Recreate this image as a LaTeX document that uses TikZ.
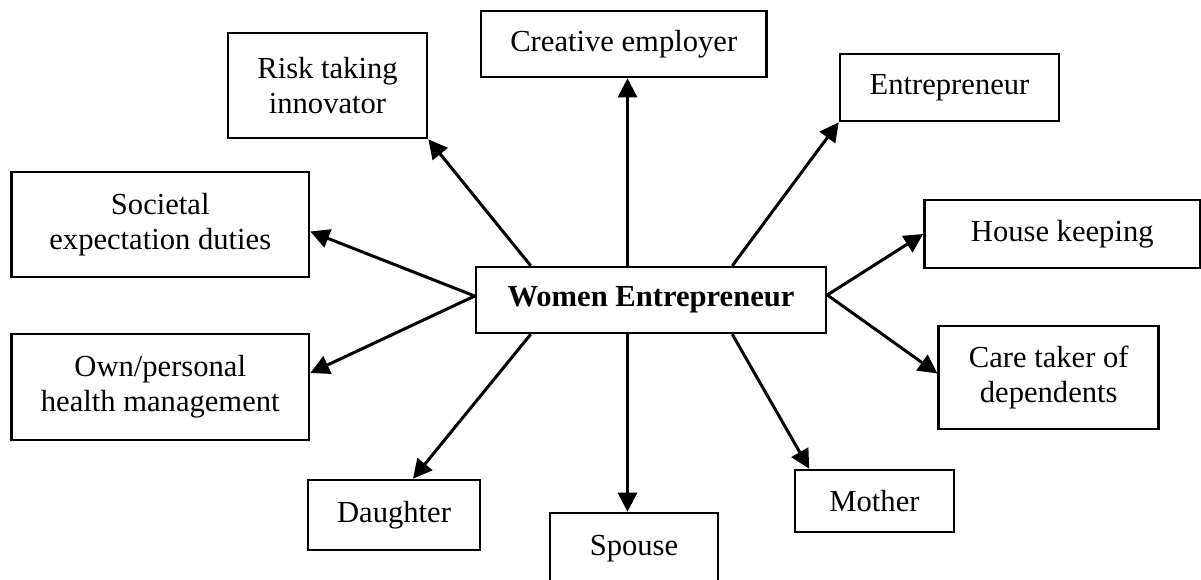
\documentclass[tikz,border=0pt]{standalone}
\usepackage{fontspec}
\setmainfont{Liberation Serif}
\usetikzlibrary{arrows.meta}
\begin{document}
\begin{tikzpicture}[x=1pt,y=-1pt,
  box/.style={draw,line width=2.6pt,inner sep=0pt,align=center,
    font=\fontsize{30.6}{35}\selectfont},
  arr/.style={line width=3pt,-{Triangle[length=19pt,width=19pt]}}]
\useasboundingbox[fill=white] (0,0) rectangle (1201,579);
\node[box,minimum width=350pt,minimum height=66pt,font=\fontsize{30.6}{35}\selectfont\bfseries] (c) at (651,300) {Women Entrepreneur};
\node[box,minimum width=199pt,minimum height=105pt] (risk) at (327.5,85.5) {Risk taking\\innovator};
\node[box,minimum width=285.5pt,minimum height=66pt] (cre) at (623.75,44) {Creative employer};
\node[box,minimum width=219pt,minimum height=67pt] (ent) at (949.5,87.5) {Entrepreneur};
\node[box,minimum width=297.5pt,minimum height=105pt] (soc) at (160.25,224.5) {Societal\\expectation duties};
\node[box,minimum width=275.5pt,minimum height=68pt] (hk) at (1062.25,234) {House keeping};
\node[box,minimum width=297.5pt,minimum height=106pt] (own) at (160.25,387) {Own/personal\\health management};
\node[box,minimum width=220pt,minimum height=103pt] (care) at (1048.7,377.5) {Care taker of\\dependents};
\node[box,minimum width=172pt,minimum height=70pt] (dau) at (394,515) {Daughter};
\node[box,minimum width=168pt,minimum height=72pt] (sp) at (634,549) {Spouse};
\node[box,minimum width=159pt,minimum height=62pt] (mo) at (874.5,501) {Mother};
\draw[arr] ([xshift=56pt]c.north west) -- (risk.south east);
\draw[arr] ([xshift=-23.5pt]c.north) -- ([xshift=-23.5pt]c.north |- cre.south);
\draw[arr] ([xshift=-95pt]c.north east) -- (ent.south west);
\draw[arr] ([yshift=4pt]c.west) -- ([yshift=-7pt]soc.east);
\draw[arr] ([yshift=5pt]c.east) -- (hk.west);
\draw[arr] ([yshift=4pt]c.west) -- ([yshift=14pt]own.east);
\draw[arr] ([yshift=5pt]c.east) -- ([yshift=4pt]care.west);
\draw[arr] ([xshift=56pt]c.south west) -- ([xshift=19pt]dau.north);
\draw[arr] ([xshift=-23.5pt]c.south) -- ([xshift=-23.5pt]c.south |- sp.north);
\draw[arr] ([xshift=-95pt]c.south east) -- ([xshift=15.5pt]mo.north west);
\end{tikzpicture}
\end{document}
